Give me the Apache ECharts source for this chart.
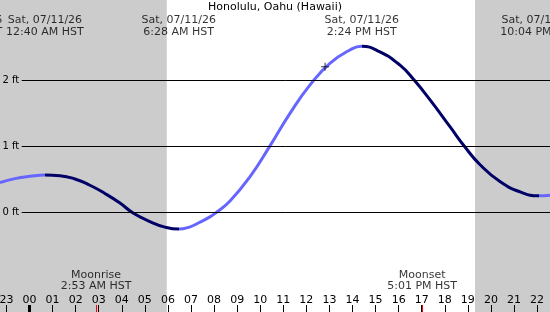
<!DOCTYPE html>
<html>
<head>
<meta charset="utf-8">
<script src="https://cdn.jsdelivr.net/npm/echarts@6/dist/echarts.min.js"></script>
<style>
  html, body { margin: 0; padding: 0; background: #fff; }
  #chart { width: 550px; height: 312px; }
</style>
</head>
<body>
<div id="chart"></div>
<script>
// tide height (ft) against hours from midnight, Sat 07/11/26
const tideHours = [-1.28, -0.63, 0.02, 0.667, 1.32, 1.97, 2.62, 3.27, 3.92, 4.49, 5.22, 5.87, 6.467,
  6.96, 7.39, 7.82, 8.11, 8.69, 9.56, 10.43, 11.29, 12.16, 13.03, 13.89, 14.4,
  15.19, 16.06, 16.68, 17.37, 18.24, 18.85, 19.53, 20.39, 21.26, 22.067, 22.56];
const tideFeet = [0.45, 0.51, 0.545, 0.565, 0.555, 0.505, 0.41, 0.285, 0.14, -0.01, -0.14, -0.225, -0.255,
  -0.22, -0.15, -0.07, 0.0, 0.17, 0.54, 1.01, 1.50, 1.93, 2.26, 2.46, 2.515,
  2.43, 2.23, 2.0, 1.70, 1.29, 1.0, 0.72, 0.465, 0.31, 0.25, 0.26];

// highs and lows
const extremeHours = [-2.69, 0.667, 6.467, 14.4, 22.067];
const extremeDays = ['Fri, 07/10/26', 'Sat, 07/11/26', 'Sat, 07/11/26', 'Sat, 07/11/26', 'Sat, 07/11/26'];
const extremeTimes = ['9:19 PM HST', '12:40 AM HST', '6:28 AM HST', '2:24 PM HST', '10:04 PM HST'];

const moonHours = [2.883, 17.017];
const moonNames = ['Moonrise', 'Moonset'];
const moonTimes = ['2:53 AM HST', '5:01 PM HST'];

const sunrise = 5.95;
const sunset = 19.31;
const nowPoint = [12.81, 2.206];

const hourTicks = [-1, 0, 1, 2, 3, 4, 5, 6, 7, 8, 9, 10, 11, 12, 13, 14, 15, 16, 17, 18, 19, 20, 21, 22];
const gridFeet = [0, 1, 2];

const xMin = -1.279, xMax = 22.56;
const yMin = -1.511, yMax = 3.217;
const gridLineStart = -0.338;

const rising = '#6666ff', falling = '#000066';
const font = 'DejaVu Sans';

// colour pieces: rising -> light, falling -> dark
const pieces = [];
const ext = extremeHours.slice(1);
pieces.push({ lt: ext[0], color: rising });
for (let i = 0; i < ext.length - 1; i++) {
  pieces.push({ gte: ext[i], lt: ext[i + 1], color: i % 2 === 0 ? falling : rising });
}
pieces.push({ gte: ext[ext.length - 1], color: ext.length % 2 === 1 ? falling : rising });

const myChart = echarts.init(document.getElementById('chart'));

const plainAxis = (ticks, color, width) => ({
  type: 'value', min: xMin, max: xMax, position: 'bottom', offset: 0, z: 10,
  axisLine: { show: false, onZero: false },
  axisLabel: { show: false },
  splitLine: { show: false },
  axisTick: { show: true, inside: true, length: 7, customValues: ticks, lineStyle: { color: color, width: width } }
});

const option = {
  animation: false,
  backgroundColor: '#fff',
  textStyle: { fontFamily: font },
  title: {
    text: 'Honolulu, Oahu (Hawaii)',
    left: 'center', top: 2, padding: 0,
    textStyle: { fontFamily: font, fontSize: 11, fontWeight: 'normal', color: '#000' }
  },
  grid: { left: 0, right: 0, top: 0, bottom: 0, containLabel: false, outerBoundsMode: 'none' },
  xAxis: [
    {
      type: 'value', min: xMin, max: xMax, z: 10,
      axisLine: { show: false, onZero: false },
      splitLine: { show: false },
      axisTick: { show: true, inside: true, length: 7, customValues: hourTicks, lineStyle: { color: '#000', width: 1 } },
      axisLabel: {
        show: true, inside: true, margin: 6, customValues: hourTicks,
        fontFamily: font, fontSize: 11, color: '#000',
        formatter: v => String((Math.round(v) + 24) % 24).padStart(2, '0')
      }
    },
    plainAxis([0], '#000', 3),
    plainAxis(moonHours, '#ff0000', 1)
  ],
  yAxis: {
    type: 'value', min: yMin, max: yMax, show: false
  },
  visualMap: {
    type: 'piecewise', show: false, dimension: 0, seriesIndex: 1, pieces: pieces
  },
  series: [
    {
      type: 'line', data: [], z: 1, silent: true,
      markArea: {
        silent: true,
        itemStyle: { color: '#cccccc' },
        data: [
          [{ xAxis: xMin }, { xAxis: sunrise }],
          [{ xAxis: sunset }, { xAxis: xMax }]
        ]
      },
      markLine: {
        silent: true, symbol: 'none',
        lineStyle: { color: '#000', width: 1, type: 'solid' },
        label: { show: true, position: 'start', distance: 2.5, color: '#000', fontFamily: font, fontSize: 10 },
        data: gridFeet.map(v => [
          { coord: [gridLineStart, v], label: { formatter: v + ' ft' } },
          { coord: [xMax, v] }
        ])
      }
    },
    {
      type: 'line', z: 3, clip: false,
      data: tideHours.map((h, i) => [h, tideFeet[i]]),
      smooth: true, showSymbol: false, symbol: 'none',
      lineStyle: { width: 3 }
    },
    {
      type: 'scatter', z: 4, data: [nowPoint],
      symbol: 'path://M0,3.5h8v1h-8z M3.5,0h1v8h-1z', symbolSize: 8,
      itemStyle: { color: '#000' }
    },
    {
      type: 'scatter', z: 5, clip: false, symbolSize: 0,
      data: extremeHours.map((h, i) => ({ value: [h, yMax], day: extremeDays[i], time: extremeTimes[i] })),
      label: {
        show: true, position: 'bottom', distance: 13.5,
        fontFamily: font, fontSize: 11, lineHeight: 12.5, color: '#000', align: 'center',
        formatter: p => p.data.day + '\n' + p.data.time
      }
    },
    {
      type: 'scatter', z: 5, clip: false, symbolSize: 0,
      data: moonHours.map((h, i) => ({ value: [h, yMin], name: moonNames[i], time: moonTimes[i] })),
      label: {
        show: true, position: 'top', distance: 20.5,
        fontFamily: font, fontSize: 11, lineHeight: 11, color: '#000', align: 'center',
        formatter: p => p.data.name + '\n' + p.data.time
      }
    }
  ]
};

myChart.setOption(option);
</script>
</body>
</html>
